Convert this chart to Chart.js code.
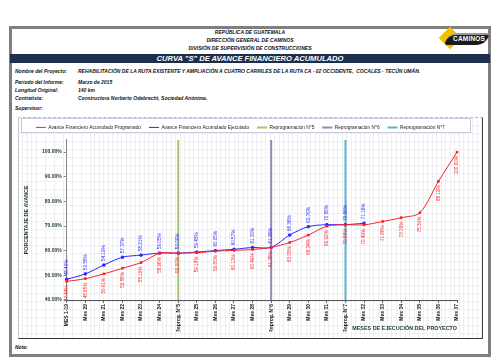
<!DOCTYPE html>
<html>
<head>
<meta charset="utf-8">
<script src="https://cdn.jsdelivr.net/npm/chart.js@4.4.1/dist/chart.umd.min.js"></script>
<style>
  html,body{margin:0;padding:0;background:#fff;}
  body{width:500px;height:361px;position:relative;overflow:hidden;font-family:"Liberation Sans",Arial,sans-serif;}
  .frame{position:absolute;left:9px;top:26px;width:476px;height:325px;border:3px solid #7f7f7f;background:#fff;}
  .hdr{position:absolute;left:0;width:500px;text-align:center;font-weight:bold;font-style:italic;font-size:5px;color:#111;}
  .band{position:absolute;left:10px;top:54px;width:480px;height:9px;background:#1c2f4d;color:#fff;text-align:center;font-weight:bold;font-style:italic;font-size:7.6px;line-height:9px;}
  .lbl{position:absolute;left:15px;font-weight:bold;font-style:italic;font-size:5px;color:#111;white-space:nowrap;}
  .val{position:absolute;left:78px;font-weight:bold;font-style:italic;font-size:5px;color:#111;white-space:nowrap;}
  .chartbox{position:absolute;left:18px;top:117px;width:463px;height:220px;
     border-top:1px dashed #b8bccb;border-left:1px solid #c8c8c8;border-right:1px solid #444;border-bottom:1px solid #333;
     background-color:#fff;
     background-image:repeating-linear-gradient(to right, transparent 0, transparent 3.5px, #eceef4 3.5px, #eceef4 4.5px),
                      repeating-linear-gradient(to bottom, transparent 0, transparent 7px, #f0f1f5 7px, #f0f1f5 8px);}
  canvas{position:absolute;left:18px;top:117px;}
  .logo{position:absolute;left:436px;top:27px;width:54px;height:26px;}
  .diamond{position:absolute;left:6px;top:3px;width:16px;height:16px;background:#f2c200;transform:rotate(45deg);}
  .swoosh{position:absolute;left:10px;top:6px;width:42px;height:10px;background:#1b1b1b;border-radius:10px 3px 10px 3px;transform:skewX(-15deg);border-top:2px solid #9a9a9a;}
  .logotxt{position:absolute;left:17px;top:7.5px;font-weight:bold;font-size:6.5px;color:#fff;letter-spacing:0.2px;}
</style>
</head>
<body>
<div class="frame"></div>
<div class="hdr" style="top:29px;">REPÚBLICA DE GUATEMALA</div>
<div class="hdr" style="top:37px;">DIRECCIÓN GENERAL DE CAMINOS</div>
<div class="hdr" style="top:45px;">DIVISIÓN DE SUPERVISIÓN DE CONSTRUCCIONES</div>
<div class="logo"><div class="diamond"></div><div class="swoosh"></div><div class="logotxt">CAMINOS</div></div>
<div class="band">CURVA "S" DE AVANCE FINANCIERO ACUMULADO</div>
<div class="lbl" style="top:68px;">Nombre del Proyecto:</div>
<div class="val" style="top:68px;">REHABILITACIÓN DE LA RUTA EXISTENTE Y AMPLIACIÓN A CUATRO CARRILES DE LA RUTA CA - 02 OCCIDENTE,&nbsp; COCALES - TECÚN UMÁN.</div>
<div class="lbl" style="top:79px;">Período del Informe:</div>
<div class="val" style="top:79px;">Marzo de 2015</div>
<div class="lbl" style="top:87px;">Longitud Original:</div>
<div class="val" style="top:87px;">140 km</div>
<div class="lbl" style="top:95px;">Contratista:</div>
<div class="val" style="top:95px;">Constructora Norberto Odebrecht, Sociedad Anónima.</div>
<div class="lbl" style="top:105px;">Supervisor:</div>
<div class="chartbox"></div>
<canvas id="c" width="464" height="221"></canvas>
<div class="lbl" style="top:344px;">Nota:</div>

<script>
const categories = ['MES 1-19','Mes 20','Mes 21','Mes 22','Mes 23','Mes 24','Reprog. N°5','Mes 25','Mes 26','Mes 27','Mes 28','Reprog. N°6','Mes 29','Mes 30','Mes 31','Reprog. N°7','Mes 32','Mes 33','Mes 34','Mes 35','Mes 36','Mes 37'];
const programado = [47.54,48.65,50.61,52.88,55.19,58.96,59.00,59.18,59.80,60.13,60.49,61.35,63.33,66.34,69.92,70.56,70.49,71.86,73.39,75.39,88.12,100.00];
const ejecutado = [48.40,50.58,54.19,57.37,58.21,59.05,59.00,59.45,60.05,60.57,61.30,61.35,66.36,69.76,70.56,70.56,71.16,null,null,null,null,null];
const reprogCats = ['Reprog. N°5','Reprog. N°6','Reprog. N°7'];
const reprogNames = ['Reprogramación N°5','Reprogramación N°6','Reprogramación N°7'];
const reprogColors = ['#a9c46a','#9587b8','#5bb3cf'];
const yTicks = [40,50,60,70,80,90,100];
const yMin = 40, yMax = 105;

const textColor = '#1f3a1f';

const reprogSets = reprogCats.map((c,i)=>({
  label: reprogNames[i],
  data: [{x:c,y:yMin},{x:c,y:yMax}],
  borderColor: reprogColors[i],
  backgroundColor: reprogColors[i],
  borderWidth: 2,
  pointRadius: 0,
  order: 1
}));

const labelPlugin = {
  id:'valueLabels',
  afterDatasetsDraw(chart){
    const ctx = chart.ctx;
    [0,1].forEach(di=>{
      const meta = chart.getDatasetMeta(di);
      const ds = chart.data.datasets[di];
      meta.data.forEach((pt,i)=>{
        const v = ds.data[i];
        if (v === null || v === undefined) return;
        ctx.save();
        ctx.translate(pt.x, pt.y);
        ctx.rotate(-Math.PI/2);
        ctx.font = '4.6px "Liberation Sans", Arial, sans-serif';
        ctx.fillStyle = ds.borderColor;
        ctx.textBaseline = 'middle';
        if (di === 1){ ctx.textAlign='left'; ctx.fillText(v.toFixed(2)+'%', 4, 0); }
        else { ctx.textAlign='right'; ctx.fillText(v.toFixed(2)+'%', -4, 0); }
        ctx.restore();
      });
    });
  }
};

const legendBoxPlugin = {
  id:'legendBox',
  beforeDraw(chart){
    const l = chart.legend;
    if(!l) return;
    const ctx = chart.ctx;
    ctx.save();
    ctx.fillStyle = '#ffffff';
    ctx.strokeStyle = '#c9c9e6';
    ctx.lineWidth = 1;
    ctx.fillRect(3.5, 1.5, 449, 14);
    ctx.strokeRect(3.5, 1.5, 449, 14);
    ctx.restore();
  }
};

new Chart(document.getElementById('c'), {
  type:'line',
  data:{
    labels: categories,
    datasets:[
      {label:'Avance Financiero Acumulado Programado', data:programado, borderColor:'#ff2020', backgroundColor:'#ff2020', borderWidth:1, pointStyle:'rect', pointRadius:1.2, tension:0.3, order:0},
      {label:'Avance Financiero Acumulado Ejecutado', data:ejecutado, borderColor:'#2626ff', backgroundColor:'#2626ff', borderWidth:1, pointStyle:'rect', pointRadius:1.5, tension:0.3, spanGaps:false, order:0},
      ...reprogSets
    ]
  },
  options:{
    responsive:false,
    animation:false,
    devicePixelRatio:1,
    layout:{padding:{left:5.7, right:25, top:0, bottom:6.5}},
    plugins:{
      legend:{
        display:true,
        position:'top',
        labels:{
          usePointStyle:true, pointStyle:'line', pointStyleWidth:10, boxHeight:4.8,
          padding:8,
          color:'#222',
          font:{family:'"Liberation Sans", Arial, sans-serif', size:4.8}
        }
      },
      tooltip:{enabled:false}
    },
    scales:{
      x:{
        type:'category',
        offset:false,
        grid:{drawOnChartArea:false, drawTicks:true, tickLength:3, color:'#666'},
        border:{display:true, color:'#555'},
        ticks:{autoSkip:false, maxRotation:90, minRotation:90, padding:1, color:'#111', font:{family:'"Liberation Sans", Arial, sans-serif', size:5, weight:'bold'}},
        title:{display:true, text:'MESES DE EJECUCIÓN DEL PROYECTO', align:'end', color:textColor, padding:0, font:{family:'"Liberation Sans", Arial, sans-serif', size:5.4, weight:'bold'}},
        afterFit(s){ s.height = 31.5; }
      },
      y:{
        min:yMin, max:yMax,
        afterBuildTicks(s){ s.ticks = yTicks.map(v=>({value:v})); },
        grid:{drawOnChartArea:false, drawTicks:true, tickLength:3, color:'#888'},
        border:{display:true, color:'#888'},
        ticks:{padding:2, color:textColor, font:{family:'"Liberation Sans", Arial, sans-serif', size:5, weight:'bold'}, callback:(v)=>Number(v).toFixed(2)+'%'},
        title:{display:true, text:'PORCENTAJE DE AVANCE', color:textColor, padding:0, font:{family:'"Liberation Sans", Arial, sans-serif', size:5.4, weight:'bold'}},
        afterFit(s){ s.width = 43; }
      }
    }
  },
  plugins:[legendBoxPlugin, labelPlugin]
});
</script>
</body>
</html>
